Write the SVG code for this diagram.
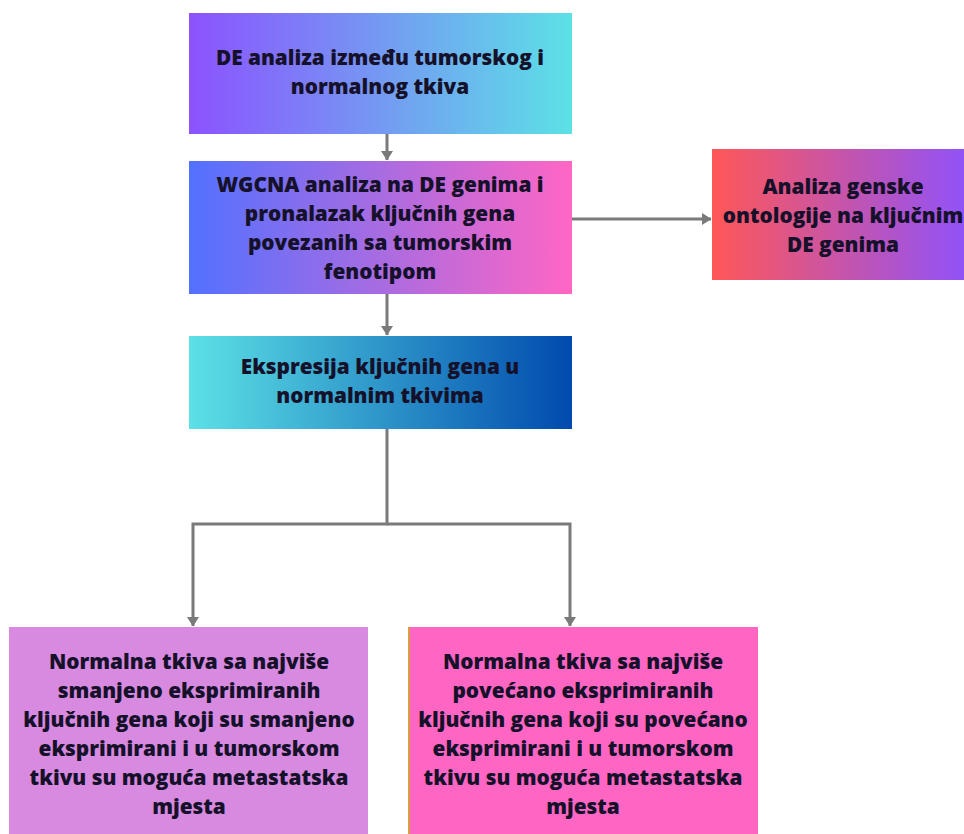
<svg xmlns="http://www.w3.org/2000/svg" width="964" height="834" viewBox="0 0 964 834">
<defs>
<linearGradient id="g1" x1="0" y1="0" x2="1" y2="0"><stop offset="0" stop-color="#8c52ff"/><stop offset="1" stop-color="#5ce1e6"/></linearGradient>
<linearGradient id="g2" x1="0" y1="0" x2="1" y2="0"><stop offset="0" stop-color="#5271ff"/><stop offset="1" stop-color="#ff66c4"/></linearGradient>
<linearGradient id="g3" x1="0" y1="0" x2="1" y2="0"><stop offset="0" stop-color="#ff5757"/><stop offset="1" stop-color="#8c52ff"/></linearGradient>
<linearGradient id="g4" x1="0" y1="0" x2="1" y2="0"><stop offset="0" stop-color="#5ce1e6"/><stop offset="1" stop-color="#004aad"/></linearGradient>
<marker id="ah" viewBox="0 0 8 10" refX="7.5" refY="5" markerWidth="3.2" markerHeight="4.6" orient="auto" markerUnits="strokeWidth">
<path d="M0,0 L8,5 L0,10 z" fill="#7a7a7a"/>
</marker>
<style>
.t{font-family:"Open Sans","Noto Sans","Liberation Sans",sans-serif;font-weight:800;font-size:20.8px;fill:#16112a;text-anchor:middle}
.c{fill:none;stroke:#7a7a7a;stroke-width:3}
</style>
</defs>
<rect width="964" height="834" fill="#ffffff"/>
<g id="connectors">
<path class="c" d="M387,134 V160" marker-end="url(#ah)"/>
<path class="c" d="M387,294 V335" marker-end="url(#ah)"/>
<path class="c" d="M572,219 H711" marker-end="url(#ah)"/>
<path class="c" d="M387,429 V524 H193 V626" marker-end="url(#ah)"/>
<path class="c" d="M387,524 H570 V626" marker-end="url(#ah)"/>
</g>
<g id="n1">
<rect x="189" y="13" width="383" height="121" fill="url(#g1)"/>
<text class="t"><tspan x="380" y="65">DE analiza između tumorskog i</tspan><tspan x="380" y="94">normalnog tkiva</tspan></text>
</g>
<g id="n2">
<rect x="189" y="161" width="383" height="133" fill="url(#g2)"/>
<text class="t"><tspan x="380" y="192">WGCNA analiza na DE genima i</tspan><tspan x="380" y="221">pronalazak ključnih gena</tspan><tspan x="380" y="250">povezanih sa tumorskim</tspan><tspan x="380" y="279">fenotipom</tspan></text>
</g>
<g id="n3">
<rect x="712" y="149" width="264" height="131" fill="url(#g3)"/>
<text class="t"><tspan x="843" y="194">Analiza genske</tspan><tspan x="843" y="223">ontologije na ključnim</tspan><tspan x="843" y="252">DE genima</tspan></text>
</g>
<g id="n4">
<rect x="189" y="336" width="383" height="93" fill="url(#g4)"/>
<text class="t"><tspan x="380" y="374">Ekspresija ključnih gena u</tspan><tspan x="380" y="403">normalnim tkivima</tspan></text>
</g>
<g id="n5">
<rect x="9" y="627" width="359" height="210" fill="#d78ae0"/>
<text class="t"><tspan x="189" y="669">Normalna tkiva sa najviše</tspan><tspan x="189" y="698">smanjeno eksprimiranih</tspan><tspan x="189" y="727">ključnih gena koji su smanjeno</tspan><tspan x="189" y="756">eksprimirani i u tumorskom</tspan><tspan x="189" y="785">tkivu su moguća metastatska</tspan><tspan x="189" y="814">mjesta</tspan></text>
</g>
<g id="n6">
<rect x="408" y="627" width="350" height="210" fill="#ff66c4"/>
<rect x="408" y="627" width="2" height="210" fill="#d9a040"/>
<text class="t"><tspan x="583" y="669">Normalna tkiva sa najviše</tspan><tspan x="583" y="698">povećano eksprimiranih</tspan><tspan x="583" y="727">ključnih gena koji su povećano</tspan><tspan x="583" y="756">eksprimirani i u tumorskom</tspan><tspan x="583" y="785">tkivu su moguća metastatska</tspan><tspan x="583" y="814">mjesta</tspan></text>
</g>
</svg>
